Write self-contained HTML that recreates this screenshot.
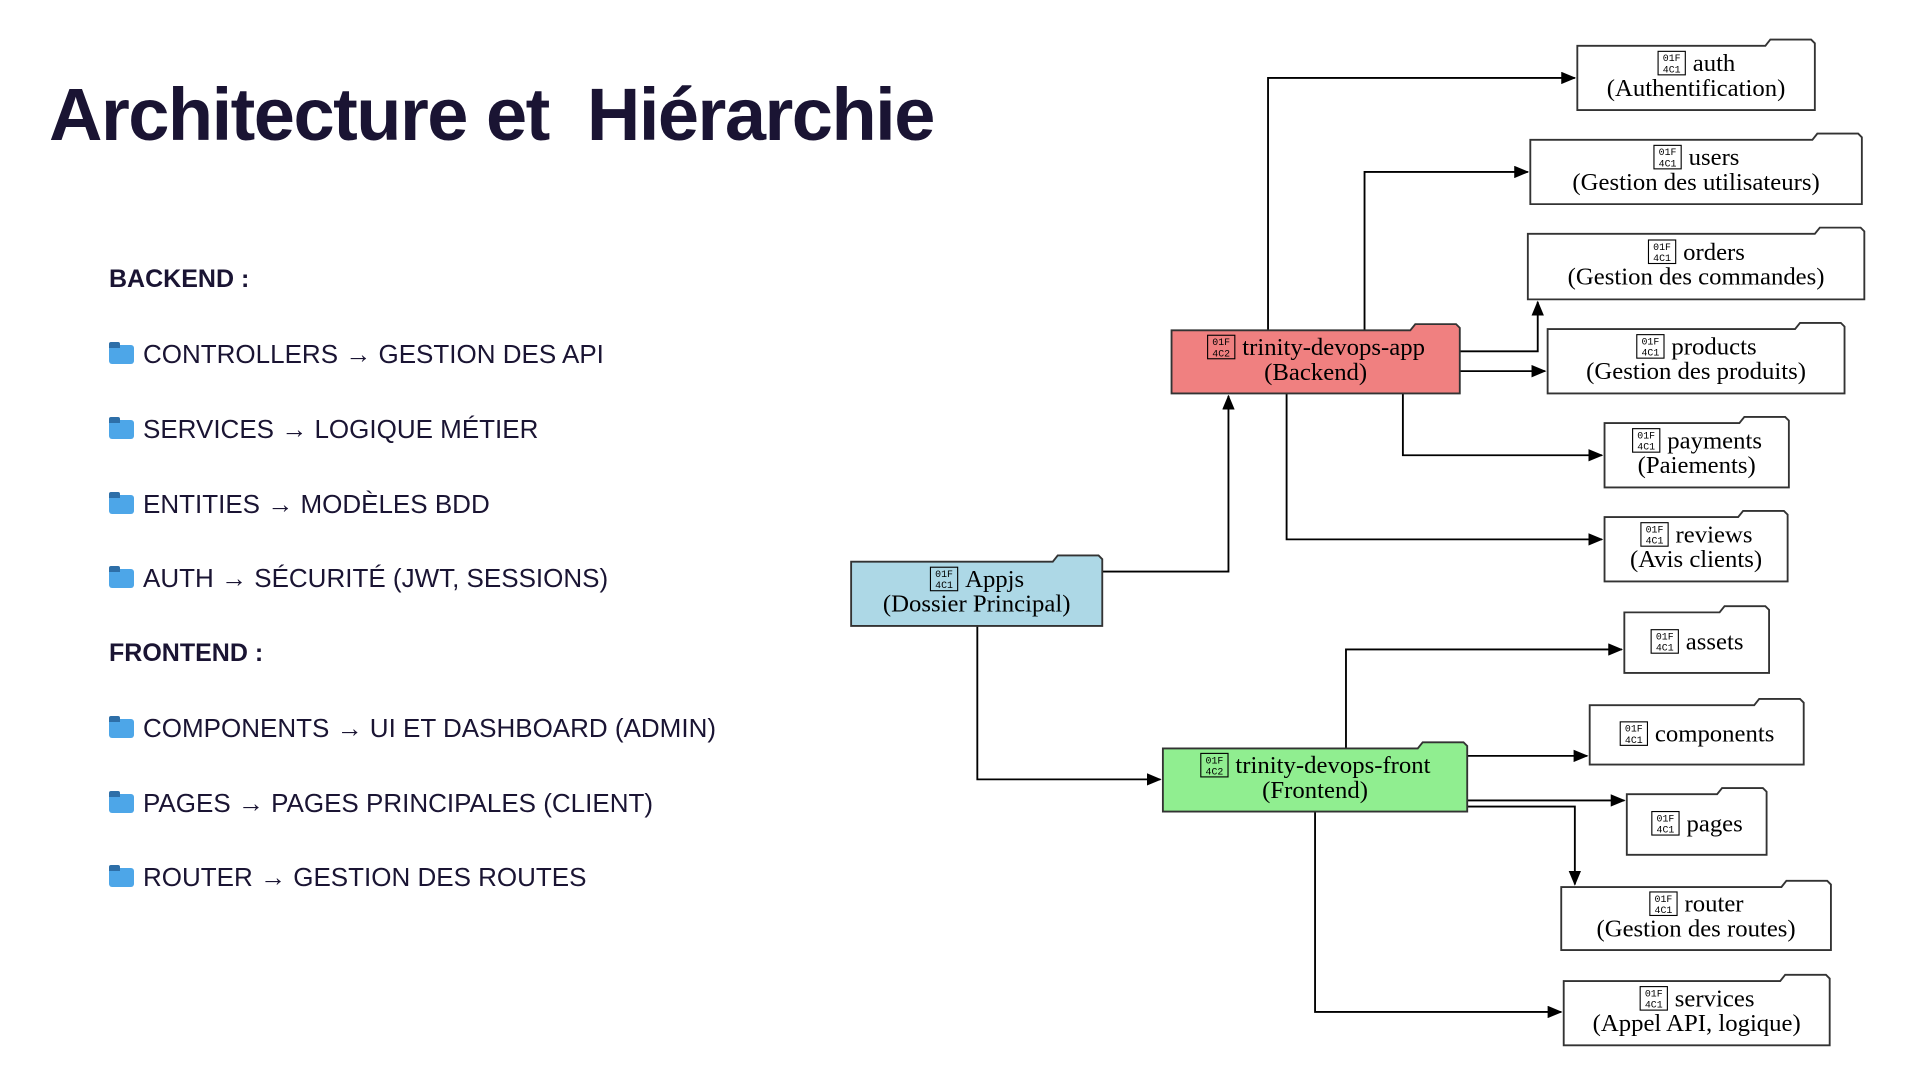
<!DOCTYPE html>
<html><head><meta charset="utf-8"><style>
html,body{margin:0;padding:0;background:#fff;width:1920px;height:1080px;overflow:hidden}
.t{position:absolute;left:49px;top:72px;font-family:"Liberation Sans",sans-serif;font-weight:bold;font-size:74px;color:#1a1433;letter-spacing:-1.5px}
.h{position:absolute;left:109px;font-family:"Liberation Sans",sans-serif;font-weight:bold;font-size:25px;color:#1a1433}
.i{position:absolute;left:109px;font-family:"Liberation Sans",sans-serif;font-size:26px;color:#1a1433;white-space:nowrap}
.i span.f{display:inline-block;width:25px;height:19px;background:#4da6e8;border-radius:3px;margin-right:9px;vertical-align:-1px;position:relative}
.i span.f:before{content:"";position:absolute;left:0;top:-3px;width:11px;height:6px;background:#2e6fa8;border-radius:2px 2px 0 0}
svg{position:absolute;left:0;top:0}
</style></head><body>
<div class="t">Architecture et&nbsp; Hiérarchie</div>
<div class="h" style="top:265px">BACKEND :</div>
<div class="i" style="top:339px"><span class="f"></span>CONTROLLERS → GESTION DES API</div>
<div class="i" style="top:414px"><span class="f"></span>SERVICES → LOGIQUE MÉTIER</div>
<div class="i" style="top:489px"><span class="f"></span>ENTITIES → MODÈLES BDD</div>
<div class="i" style="top:563px"><span class="f"></span>AUTH → SÉCURITÉ (JWT, SESSIONS)</div>
<div class="h" style="top:639px">FRONTEND :</div>
<div class="i" style="top:713px"><span class="f"></span>COMPONENTS → UI ET DASHBOARD (ADMIN)</div>
<div class="i" style="top:788px"><span class="f"></span>PAGES → PAGES PRINCIPALES (CLIENT)</div>
<div class="i" style="top:862px"><span class="f"></span>ROUTER → GESTION DES ROUTES</div>
<svg id="s" width="1920" height="1080" viewBox="0 0 1552 873" preserveAspectRatio="none" xmlns="http://www.w3.org/2000/svg">
<defs><marker id="a" markerWidth="12" markerHeight="10" refX="11" refY="5" orient="auto" markerUnits="userSpaceOnUse"><path d="M0,0 L12,5 L0,10 Z" fill="#000"/></marker></defs>
<g id="e" fill="none" stroke="#000" stroke-width="1.5"></g>
<g id="n"></g>
</svg>
<script>
var NS="http://www.w3.org/2000/svg";
var E=document.getElementById('e'),N=document.getElementById('n');
var edges=["M891,462 H993 V320","M790,506 V630 H938","M1025,267 V63 H1273","M1103,267 V139 H1235","M1180,284 H1243 V244","M1180,300 H1249","M1134,318 V368 H1295","M1040,318 V436 H1295","M1088,605 V525 H1311","M1186,611 H1283","M1186,647 H1313","M1186,652 H1273 V715","M1063,656 V818 H1262"];
edges.forEach(function(d){var p=document.createElementNS(NS,'path');p.setAttribute('d',d);p.setAttribute('marker-end','url(#a)');E.appendChild(p);});
var nodes=[
[688,454,891,506,"#add8e6","Appjs","(Dossier Principal)"],
[947,267,1180,318,"#f08080","trinity-devops-app","(Backend)"],
[940,605,1186,656,"#90ee90","trinity-devops-front","(Frontend)"],
[1275,37,1467,89,"#fff","auth","(Authentification)"],
[1237,113,1505,165,"#fff","users","(Gestion des utilisateurs)"],
[1235,189,1507,242,"#fff","orders","(Gestion des commandes)"],
[1251,266,1491,318,"#fff","products","(Gestion des produits)"],
[1297,342,1446,394,"#fff","payments","(Paiements)"],
[1297,418,1445,470,"#fff","reviews","(Avis clients)"],
[1313,495,1430,544,"#fff","assets",""],
[1285,570,1458,618,"#fff","components",""],
[1315,642,1428,691,"#fff","pages",""],
[1262,717,1480,768,"#fff","router","(Gestion des routes)"],
[1264,793,1479,845,"#fff","services","(Appel API, logique)"]];
function mk(t,a){var e=document.createElementNS(NS,t);for(var k in a)e.setAttribute(k,a[k]);N.appendChild(e);return e;}
nodes.forEach(function(n){
 var x1=n[0],y1=n[1]-5,x2=n[2],y2=n[3];
 mk('path',{d:"M"+x1+","+(y1+5)+" H"+(x2-40)+" L"+(x2-36)+","+y1+" H"+(x2-3)+" L"+x2+","+(y1+3)+" V"+y2+" H"+x1+" Z",fill:n[4],stroke:"#333","stroke-width":1.5});
 var cx=(x1+x2)/2, two=n[6]!=="";
 var ly1=two?(y1+y2)/2-3:(y1+y2)/2+8;
 var t=mk('text',{x:0,y:ly1,"font-family":"Liberation Serif, serif","font-size":20,fill:"#000"});t.textContent=n[5];
 var w=t.getComputedTextLength(),tot=w+29,sx=cx-tot/2;
 t.setAttribute('x',sx+29);
 mk('rect',{x:sx+1,y:ly1-16,width:22,height:19,fill:"none",stroke:"#000","stroke-width":0.9});
 var a=mk('text',{x:sx+12,y:ly1-8,"font-family":"Liberation Mono, monospace","font-size":8,"text-anchor":"middle"});a.textContent="01F";
 var b=mk('text',{x:sx+12,y:ly1+1,"font-family":"Liberation Mono, monospace","font-size":8,"text-anchor":"middle"});b.textContent=n[5].indexOf("trinity")==0?"4C2":"4C1";
 if(two){var t2=mk('text',{x:cx,y:ly1+20,"font-family":"Liberation Serif, serif","font-size":20,"text-anchor":"middle"});t2.textContent=n[6];}
});
</script>
</body></html>
